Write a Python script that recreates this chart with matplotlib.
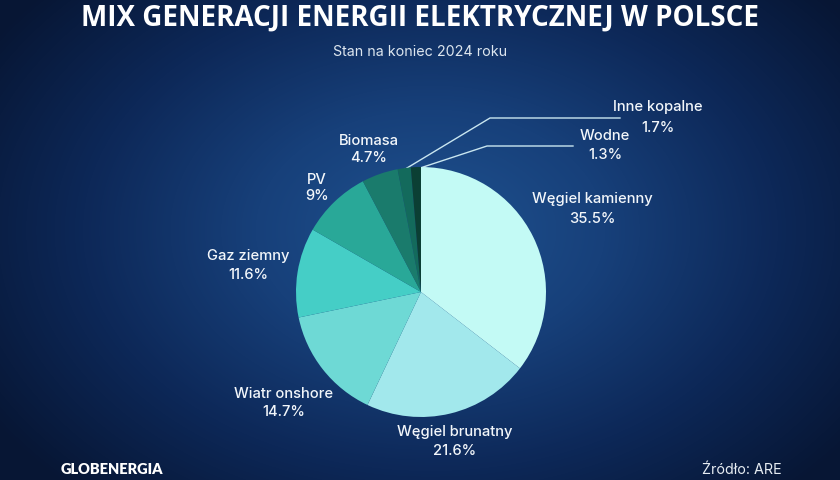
import numpy as np
import matplotlib
matplotlib.use("Agg")
import matplotlib.pyplot as plt
from matplotlib.colors import LinearSegmentedColormap

# ---- data ----
categories = ["Węgiel kamienny", "Węgiel brunatny", "Wiatr onshore", "Gaz ziemny",
              "PV", "Biomasa", "Inne kopalne", "Wodne"]
values = [35.5, 21.6, 14.7, 11.6, 9.0, 4.7, 1.7, 1.3]
value_labels = ["35.5%", "21.6%", "14.7%", "11.6%", "9%", "4.7%", "1.7%", "1.3%"]
colors = ["#c3faf5", "#a2e8ec", "#6ed9d5", "#45cec6", "#29a898", "#1a7b6c", "#136a5c", "#0b3f34"]

title = "MIX GENERACJI ENERGII ELEKTRYCZNEJ W POLSCE"
subtitle = "Stan na koniec 2024 roku"
brand = "GLOBENERGIA"
source = "Źródło: ARE"

W, H = 840, 480
fig = plt.figure(figsize=(W / 100, H / 100), dpi=100)

# background radial gradient
bg = fig.add_axes([0, 0, 1, 1])
yy, xx = np.mgrid[0:H, 0:W]
d = np.sqrt(((xx - 430) / 520.0) ** 2 + ((yy - 230) / 360.0) ** 2)
cmap = LinearSegmentedColormap.from_list("bg", ["#1f5290", "#17407a", "#0d2858", "#071634"])
bg.imshow(np.clip(d, 0, 1), cmap=cmap, aspect="auto", extent=[0, W, H, 0], vmin=0, vmax=1)
bg.set_xlim(0, W)
bg.set_ylim(H, 0)
bg.axis("off")

# pie axes: center (421, 292) px, radius 125 px
cx, cy, r = 421, 292, 125
ax = fig.add_axes([(cx - r) / W, (H - cy - r) / H, 2 * r / W, 2 * r / H])
ax.pie(values, colors=colors, startangle=90, counterclock=False, radius=1,
       wedgeprops=dict(linewidth=0))
ax.set_xlim(-1, 1)
ax.set_ylim(-1, 1)
ax.axis("off")

font = "Inter"
white = "#f2f6fa"

def px(x, y):
    return x / W, 1 - y / H

label_pos = {
    "Węgiel kamienny": (592, 199, 219),
    "Węgiel brunatny": (455, 432, 451),
    "Wiatr onshore": (284, 394, 412),
    "Gaz ziemny": (248, 256, 275),
    "PV": (317, 180, 196),
    "Biomasa": (369, 141, 158),
    "Inne kopalne": (658, 107, 128),
    "Wodne": (605, 136, 155),
}
for cat, lab in zip(categories, value_labels):
    x, y1, y2 = label_pos[cat]
    fig.text(*px(x, y1), cat, ha="center", va="center", color=white,
             fontsize=10.6, family=font, fontweight="medium")
    fig.text(*px(x, y2), lab, ha="center", va="center", color=white,
             fontsize=10.6, family=font, fontweight="medium")

# leader lines (bg axes pixel coords)
line_c = "#c9e6f0"
bg.plot([402, 490, 620], [171, 118, 118], color=line_c, lw=1)
bg.plot([414, 487, 573], [170, 146, 146], color=line_c, lw=1)

fig.text(*px(420, 18), title, ha="center", va="center", color="white",
         fontsize=20, family="Open Sans", fontweight="bold")
fig.text(*px(420, 52), subtitle, ha="center", va="center", color="#dde6ef",
         fontsize=10.3, family=font)
fig.text(*px(112, 470), brand, ha="center", va="center", color="white",
         fontsize=10.5, family="Lato", fontweight="heavy")
fig.text(*px(742, 470), source, ha="center", va="center", color="#e6ecf2",
         fontsize=10.3, family=font)

fig.savefig("out.png", dpi=100)
